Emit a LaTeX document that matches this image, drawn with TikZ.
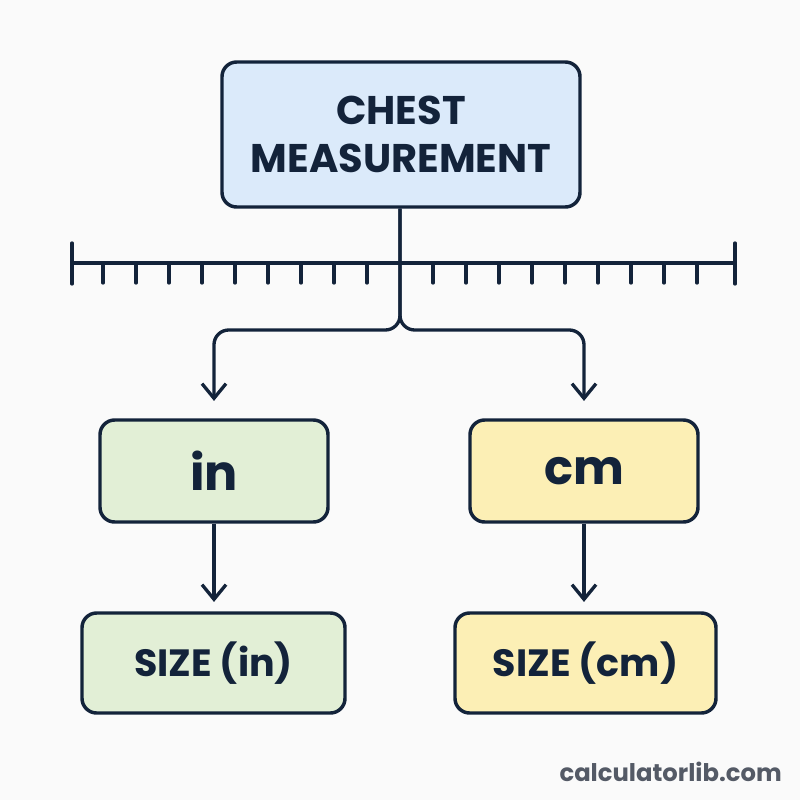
\documentclass[tikz,border=0pt]{standalone}
\usepackage{fontspec}
\setmainfont{Poppins}
\usetikzlibrary{arrows.meta}
\definecolor{ink}{HTML}{13233A}
\definecolor{bluef}{HTML}{DBEAFA}
\definecolor{greenf}{HTML}{E2EFD6}
\definecolor{yellowf}{HTML}{FCEFB5}
\definecolor{bgc}{HTML}{FAFAFA}
\definecolor{wm}{HTML}{545A66}
\begin{document}
\begin{tikzpicture}[x=0.75pt,y=-0.75pt,
  box/.style={draw=ink,line width=2.6pt,rounded corners=11pt,align=center,text=ink,font=\bfseries},
  conn/.style={draw=ink,line width=2.5pt},
  arr/.style={conn,-{Straight Barb[length=11pt,width=18pt,line width=2.5pt]}},
  tick/.style={draw=ink,line width=2.5pt,line cap=round}]
\fill[bgc] (0,0) rectangle (800,800);
\useasboundingbox (0,0) rectangle (800,800);
\node[box,fill=bluef,minimum width=268.5pt,minimum height=108.75pt,font=\bfseries\fontsize{30}{36}\selectfont] (top) at (401,134.5) {CHEST\\MEASUREMENT};
\node[box,fill=greenf,minimum width=171pt,minimum height=76.5pt,font=\bfseries\fontsize{37}{40}\selectfont] (in) at (214,471) {in};
\node[box,fill=yellowf,minimum width=171pt,minimum height=76.5pt,font=\bfseries\fontsize{36}{40}\selectfont] (cm) at (584,471) {cm};
\node[box,fill=greenf,minimum width=197.25pt,minimum height=75pt,font=\bfseries\fontsize{28.5}{30}\selectfont] (sizein) at (213.5,663) {SIZE (in)};
\node[box,fill=yellowf,minimum width=195.75pt,minimum height=75pt,font=\bfseries\fontsize{28.5}{30}\selectfont] (sizecm) at (585.5,663) {SIZE (cm)};
\node[text=wm,font=\bfseries\fontsize{18.2}{20}\selectfont,anchor=east,inner sep=0pt] (wmk) at (782,772) {calculatorlib.com};
% ruler
\draw[tick] (72,263) -- (735,263);
\draw[tick] (72,243) -- (72,284);
\draw[tick] (735,243) -- (735,284);
\foreach \k in {1,...,9}{
  \draw[tick] (400-33*\k,263) -- (400-33*\k,283);
  \draw[tick] (400+33*\k,263) -- (400+33*\k,283);
}
% connectors
\coordinate (split) at (400,330);
\draw[arr,rounded corners=11pt,shorten >=13pt] (top.south -| split) -- (split) -| (in.north);
\draw[arr,rounded corners=11pt,shorten >=13pt] (top.south -| split) -- (split) -| (cm.north);
\draw[arr,shorten >=7pt] (in.south) -- (sizein.north -| in.south);
\draw[arr,shorten >=7pt] (cm.south) -- (sizecm.north -| cm.south);
\end{tikzpicture}
\end{document}
